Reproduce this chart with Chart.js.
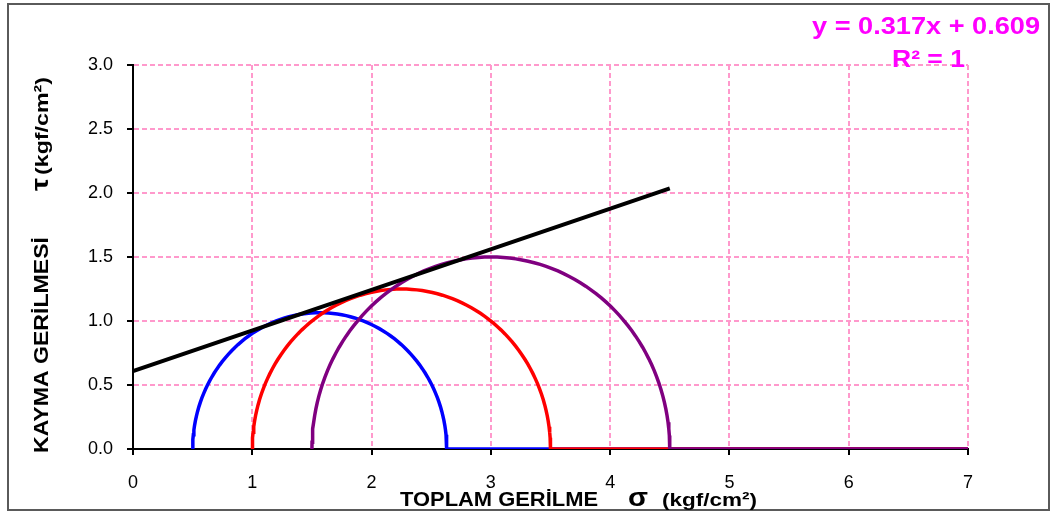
<!DOCTYPE html>
<html lang="tr">
<head>
<meta charset="UTF-8">
<title>Mohr Dairesi</title>
<script src="https://cdn.jsdelivr.net/npm/chart.js"></script>
<style>
  html, body { margin: 0; padding: 0; background: #fff; }
  #wrap { width: 1057px; height: 515px; position: relative; }
</style>
</head>
<body>
<div id="wrap"><canvas id="mohr" width="1057" height="515"></canvas></div>
<script>
// deney verileri (kgf/cm2)
const sigma3 = [0.5, 1.0, 1.5];
const sigma1 = [2.63, 3.5, 4.5];
const circleColors = ['#0000ff', '#ff0000', '#800080'];
const xTicks = [0, 1, 2, 3, 4, 5, 6, 7];
const yTicks = [0, 0.5, 1.0, 1.5, 2.0, 2.5, 3.0];
// zarf dogrusu: y = 0.317x + 0.609
const slope = 0.317;
const intercept = 0.609;
const lineX = [0, 4.5];
const xEnd = 7;

Chart.defaults.font.family = 'Liberation Sans, Arial, sans-serif';
Chart.defaults.font.size = 18;

// yari daireler: sigma3 -> sigma1, sonra eksen boyunca 7'ye kadar
function halfCircle(s3, s1) {
  const c = (s1 + s3) / 2, r = (s1 - s3) / 2;
  const pts = [];
  for (let a = 180; a >= 0; a -= 2) {
    const t = a * Math.PI / 180;
    pts.push({ x: c + r * Math.cos(t), y: r * Math.sin(t) });
  }
  pts.push({ x: xEnd, y: 0 });
  return pts;
}

const datasets = [{
  label: 'zarf',
  data: lineX.map(x => ({ x: x, y: slope * x + intercept })),
  borderColor: '#000', borderWidth: 4, order: 0
}];
sigma3.forEach((s3, i) => {
  datasets.push({
    label: 'daire ' + (i + 1),
    data: halfCircle(s3, sigma1[i]),
    borderColor: circleColors[i], borderWidth: 3.5, order: sigma3.length - i
  });
});

function fitText(ctx, text, x, y, w, font) {
  ctx.save();
  ctx.font = font;
  const m = ctx.measureText(text).width;
  ctx.translate(x, y);
  ctx.scale(w / m, 1);
  ctx.fillText(text, 0, 0);
  ctx.restore();
}

const labels = {
  id: 'labels',
  beforeDraw(chart) {
    const ctx = chart.ctx;
    ctx.save();
    ctx.strokeStyle = '#5a5a5a';
    ctx.lineWidth = 2;
    ctx.strokeRect(8, 4, 1041, 506);
    ctx.restore();
  },
  afterDraw(chart) {
    const ctx = chart.ctx;
    ctx.save();
    ctx.fillStyle = '#000';
    ctx.textBaseline = 'alphabetic';
    ctx.textAlign = 'left';
    // x ekseni basligi
    fitText(ctx, 'TOPLAM GERİLME', 400, 506, 198, 'bold 20px "Liberation Sans", Arial');
    fitText(ctx, 'σ', 628, 506, 20, 'bold 26px "Liberation Sans", Arial');
    fitText(ctx, '(kgf/cm²)', 662, 506, 95, 'bold 19px "Liberation Sans", Arial');
    // y ekseni basligi
    ctx.save();
    ctx.translate(48, 0);
    ctx.rotate(-Math.PI / 2);
    fitText(ctx, 'KAYMA GERİLMESİ', -453, 0, 216, 'bold 20px "Liberation Sans", Arial');
    fitText(ctx, 'τ', -191, 0, 13, 'bold 24px "Liberation Sans", Arial');
    fitText(ctx, '(kgf/cm²)', -175, 0, 98, 'bold 19px "Liberation Sans", Arial');
    ctx.restore();
    // denklem
    ctx.fillStyle = '#ff00ff';
    fitText(ctx, 'y = 0.317x + 0.609', 812, 34, 228, 'bold 24px "Liberation Sans", Arial');
    fitText(ctx, 'R² = 1', 892, 67, 73, 'bold 24px "Liberation Sans", Arial');
    ctx.restore();
  }
};

new Chart(document.getElementById('mohr'), {
  type: 'scatter',
  data: { datasets: datasets },
  options: {
    responsive: false,
    animation: false,
    showLine: true,
    elements: { point: { radius: 0 }, line: { tension: 0, fill: false } },
    layout: { padding: { top: 65, right: 89, bottom: 0, left: 0 } },
    plugins: { legend: { display: false }, tooltip: { enabled: false } },
    scales: {
      x: {
        type: 'linear', min: 0, max: 7,
        afterBuildTicks: s => { s.ticks = xTicks.map(v => ({ value: v })); },
        afterFit: s => { s.height = 66; },
        ticks: { color: '#000', padding: 17, font: { size: 18 } },
        grid: { color: '#ff99cc', lineWidth: 2, tickColor: '#000', tickLength: 6, tickWidth: 2 },
        border: { color: '#000', width: 2, dash: [5, 3] }
      },
      y: {
        type: 'linear', min: 0, max: 3,
        afterBuildTicks: s => { s.ticks = yTicks.map(v => ({ value: v })); },
        afterFit: s => { s.width = 133; },
        ticks: { color: '#000', padding: 14, font: { size: 18 },
                 callback: v => Number(v).toFixed(1) },
        grid: { color: '#ff99cc', lineWidth: 2, tickColor: '#000', tickLength: 6, tickWidth: 2 },
        border: { color: '#000', width: 2, dash: [5, 3] }
      }
    }
  },
  plugins: [labels]
});
</script>
</body>
</html>
